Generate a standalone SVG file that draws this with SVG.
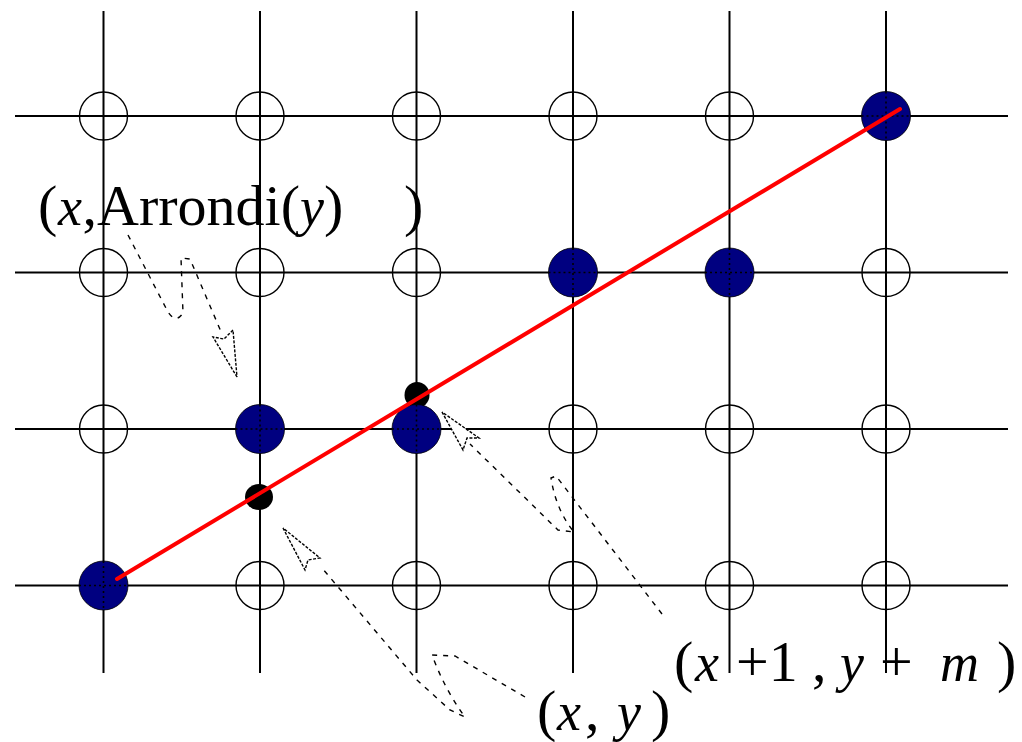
<svg xmlns="http://www.w3.org/2000/svg" width="1022" height="742" viewBox="0 0 1022 742">
<style>
.grid{stroke:#000;stroke-width:2;fill:none}
.open{fill:none;stroke:#000;stroke-width:1.4}
.full{fill:#000080;stroke:#000;stroke-width:0.8}
.dots{stroke:#000;stroke-width:1.6;stroke-dasharray:2 3;fill:none}
.pt{fill:#000}
.red{stroke:#ff0000;stroke-width:4;fill:none;stroke-linecap:round}
.dash{stroke:#000;stroke-width:1.4;fill:none;stroke-dasharray:5 6}
.head{fill:#fff;stroke:#000;stroke-width:1.4;stroke-dasharray:3 1.5}
.lbl{font-family:"Liberation Serif","Times New Roman",serif;font-size:58px;fill:#000}
.it{font-style:italic;font-size:54px}
</style>
<rect width="1022" height="742" fill="#fff"/>
<g id="grid" class="grid">
<path d="M103.5,11V673M260,11V673M416.5,11V673M573,11V673M729.5,11V673M886,11V673"/>
<path d="M15,116H1008M15,272.5H1008M15,429H1008M15,585.5H1008"/>
</g>
<g id="open-points" class="open">
<circle id="p-0-0" cx="103.5" cy="116" r="24"/>
<circle id="p-1-0" cx="260" cy="116" r="24"/>
<circle id="p-2-0" cx="416.5" cy="116" r="24"/>
<circle id="p-3-0" cx="573" cy="116" r="24"/>
<circle id="p-4-0" cx="729.5" cy="116" r="24"/>
<circle id="p-0-1" cx="103.5" cy="272.5" r="24"/>
<circle id="p-1-1" cx="260" cy="272.5" r="24"/>
<circle id="p-2-1" cx="416.5" cy="272.5" r="24"/>
<circle id="p-5-1" cx="886" cy="272.5" r="24"/>
<circle id="p-0-2" cx="103.5" cy="429" r="24"/>
<circle id="p-3-2" cx="573" cy="429" r="24"/>
<circle id="p-4-2" cx="729.5" cy="429" r="24"/>
<circle id="p-5-2" cx="886" cy="429" r="24"/>
<circle id="p-1-3" cx="260" cy="585.5" r="24"/>
<circle id="p-2-3" cx="416.5" cy="585.5" r="24"/>
<circle id="p-3-3" cx="573" cy="585.5" r="24"/>
<circle id="p-4-3" cx="729.5" cy="585.5" r="24"/>
<circle id="p-5-3" cx="886" cy="585.5" r="24"/>
</g>
<g id="exact-points">
<ellipse id="exact-1" class="pt" cx="259" cy="497" rx="14" ry="13"/>
<ellipse id="exact-2" class="pt" cx="417" cy="395" rx="12.5" ry="13"/>
</g>
<g id="filled-points">
<g id="f-0-3"><circle class="full" cx="103.5" cy="585.5" r="24.5"/><path class="dots" d="M79,585.5h49M103.5,561v49"/></g>
<g id="f-1-2"><circle class="full" cx="260" cy="429" r="24.5"/><path class="dots" d="M235.5,429h49M260,404.5v49"/></g>
<g id="f-2-2"><circle class="full" cx="416.5" cy="429" r="24.5"/><path class="dots" d="M392,429h49M416.5,404.5v49"/></g>
<g id="f-3-1"><circle class="full" cx="573" cy="272.5" r="24.5"/><path class="dots" d="M548.5,272.5h49M573,248v49"/></g>
<g id="f-4-1"><circle class="full" cx="729.5" cy="272.5" r="24.5"/><path class="dots" d="M705,272.5h49M729.5,248v49"/></g>
<g id="f-5-0"><circle class="full" cx="886" cy="116" r="24.5"/><path class="dots" d="M861.5,116h49M886,91.5v49"/></g>
</g>
<g id="segment">
<line class="red" x1="117" y1="579" x2="900" y2="109"/>
</g>
<g id="connectors">
<path class="dash" d="M128,235 L168,312 Q176,324 183,313 L181,258 L190,259 L222,334"/>
<path class="head" d="M237,377 L213,337 L224,339 L233,330 Z"/>
<path class="dash" d="M662,614 L556,476 L551,478 Q556,510 574,532 L558,530 L470,444"/>
<path class="head" d="M442,412 L463,450 L467,438 L479,438 Z"/>
<path class="dash" d="M525,697 L455,656 L432,655 Q445,690 465,717 L450,710 L417,680 L322,568"/>
<path class="head" d="M283,528 L305,570 L308,560 L320,558 Z"/>
</g>
<g id="label-round">
<text class="lbl" y="225"><tspan x="38">(</tspan><tspan x="58" class="it">x</tspan><tspan x="82.5">,</tspan><tspan x="97">Arrondi(</tspan><tspan class="it">y</tspan><tspan>)</tspan><tspan x="404">)</tspan></text>
</g>
<g id="label-next">
<text class="lbl" y="681"><tspan x="674">(</tspan><tspan x="695" class="it">x</tspan><tspan x="736">+1</tspan><tspan x="812">,</tspan><tspan x="840" class="it">y</tspan><tspan x="880">+</tspan><tspan x="940" class="it">m</tspan><tspan x="997">)</tspan></text>
</g>
<g id="label-xy">
<text class="lbl" y="730"><tspan x="537">(</tspan><tspan x="557" class="it">x</tspan><tspan x="585">,</tspan><tspan x="617" class="it">y</tspan><tspan x="651">)</tspan></text>
</g>
</svg>
